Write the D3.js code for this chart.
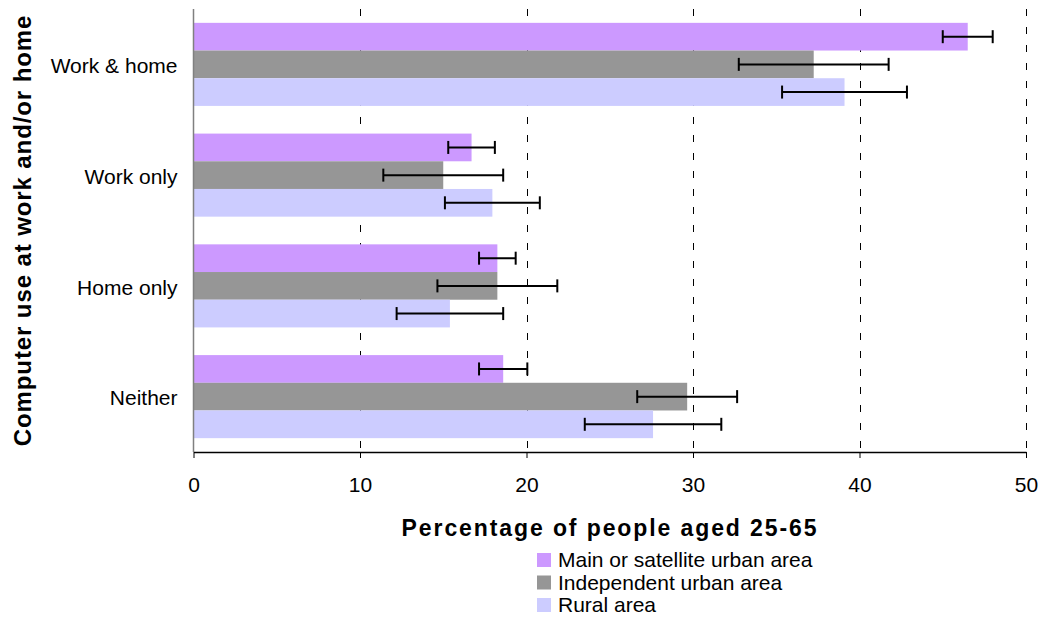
<!DOCTYPE html>
<html>
<head>
<meta charset="utf-8">
<script src="https://cdn.jsdelivr.net/npm/d3@7"></script>
<style>
  html, body { margin: 0; padding: 0; background: #fff; }
  svg { display: block; font-family: "Liberation Sans", Arial, sans-serif; }
</style>
</head>
<body>
<svg id="chart" width="1042" height="617"></svg>
<script>
const categories = ["Work & home", "Work only", "Home only", "Neither"];
const seriesNames = ["Main or satellite urban area", "Independent urban area", "Rural area"];
const mainValues = [46.5, 16.7, 18.25, 18.6];
const mainErrors = [1.5, 1.4, 1.1, 1.45];
const indepValues = [37.25, 15.0, 18.25, 29.65];
const indepErrors = [4.5, 3.6, 3.6, 3.0];
const ruralValues = [39.1, 17.95, 15.4, 27.6];
const ruralErrors = [3.75, 2.85, 3.2, 4.1];
const xTicks = [0, 10, 20, 30, 40, 50];
const colors = ["#CC99FF", "#969696", "#CCCCFF"];

const seriesValues = [mainValues, indepValues, ruralValues];
const seriesErrors = [mainErrors, indepErrors, ruralErrors];

const svg = d3.select("#chart");
const plot = { left: 193.5, right: 1026, top: 9, bottom: 452 };

const x = d3.scaleLinear().domain([0, 50]).range([plot.left, plot.right]);
const y = d3.scaleBand().domain(categories).range([plot.top, plot.bottom])
  .paddingInner(0.25).paddingOuter(0.125);
const ySub = d3.scaleBand().domain(d3.range(seriesNames.length)).range([0, y.bandwidth()]);

// gridlines
svg.append("g").selectAll("line").data(xTicks.filter(d => d > 0)).join("line")
  .attr("x1", d => Math.round(x(d)) + 0.5).attr("x2", d => Math.round(x(d)) + 0.5)
  .attr("y1", plot.top).attr("y2", plot.bottom)
  .attr("stroke", "#000").attr("stroke-width", 1)
  .attr("stroke-dasharray", "7,11");

// bars
const rows = [];
categories.forEach((c, ci) => {
  seriesNames.forEach((s, si) => {
    rows.push({ cat: c, si, v: seriesValues[si][ci], e: seriesErrors[si][ci] });
  });
});

svg.append("g").selectAll("rect").data(rows).join("rect")
  .attr("x", x(0))
  .attr("y", d => y(d.cat) + ySub(d.si))
  .attr("width", d => x(d.v) - x(0))
  .attr("height", ySub.bandwidth())
  .attr("fill", d => colors[d.si]);

// error bars
const eb = svg.append("g").attr("stroke", "#000").attr("stroke-width", 2);
rows.forEach(d => {
  const cy = y(d.cat) + ySub(d.si) + ySub.bandwidth() / 2;
  eb.append("line").attr("x1", x(d.v - d.e)).attr("x2", x(d.v + d.e)).attr("y1", cy).attr("y2", cy);
  eb.append("line").attr("x1", x(d.v - d.e)).attr("x2", x(d.v - d.e)).attr("y1", cy - 6.5).attr("y2", cy + 6.5);
  eb.append("line").attr("x1", x(d.v + d.e)).attr("x2", x(d.v + d.e)).attr("y1", cy - 6.5).attr("y2", cy + 6.5);
});

// y axis line
svg.append("line")
  .attr("x1", plot.left).attr("x2", plot.left)
  .attr("y1", plot.top).attr("y2", plot.bottom)
  .attr("stroke", "#808080").attr("stroke-width", 1.5);

// x axis
const xAxis = d3.axisBottom(x).tickValues(xTicks).tickSize(6).tickPadding(19).tickSizeOuter(0);
const gx = svg.append("g").attr("transform", `translate(0,${plot.bottom})`).call(xAxis);
gx.select(".domain").attr("stroke", "#000").attr("stroke-width", 1.5);
gx.selectAll(".tick line").attr("stroke", "#000");
gx.selectAll(".tick text")
  .attr("font-family", "Liberation Sans, Arial, sans-serif")
  .attr("font-size", 21).attr("fill", "#000");

// category labels
const yAxis = d3.axisLeft(y).tickSize(0).tickPadding(16);
const gy = svg.append("g").attr("transform", `translate(${plot.left},0)`).call(yAxis);
gy.select(".domain").remove();
gy.selectAll(".tick text")
  .attr("font-family", "Liberation Sans, Arial, sans-serif")
  .attr("font-size", 21).attr("fill", "#000")
  .attr("dy", "0.42em");

// axis titles
svg.append("text")
  .attr("x", 610).attr("y", 536)
  .attr("text-anchor", "middle")
  .attr("font-size", 23).attr("font-weight", "bold")
  .attr("letter-spacing", 1.9)
  .text("Percentage of people aged 25-65");

svg.append("text")
  .attr("transform", `translate(31,${(plot.top + plot.bottom) / 2}) rotate(-90)`)
  .attr("text-anchor", "middle")
  .attr("font-size", 24).attr("font-weight", "bold")
  .attr("letter-spacing", 0.9)
  .text("Computer use at work and/or home");

// legend
const legend = svg.append("g").attr("transform", "translate(537,553)");
const li = legend.selectAll("g").data(seriesNames).join("g")
  .attr("transform", (d, i) => `translate(0,${i * 22.5})`);
li.append("rect").attr("width", 14).attr("height", 14).attr("fill", (d, i) => colors[i]);
li.append("text").attr("x", 21).attr("y", 14)
  .attr("font-size", 21).attr("fill", "#000").text(d => d);
</script>
</body>
</html>
